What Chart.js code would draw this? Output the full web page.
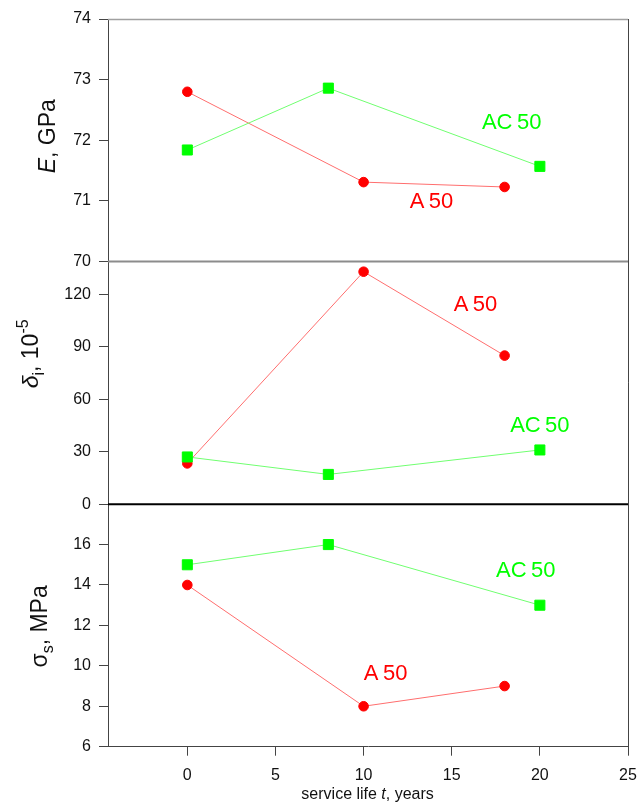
<!DOCTYPE html>
<html lang="en">
<head>
<meta charset="UTF-8">
<title>Service life</title>
<script src="https://cdn.jsdelivr.net/npm/chart.js"></script>
<style>
    html, body { margin: 0; padding: 0; background: #fff; }
    .chart-container { width: 638px; height: 805px; position: relative; }
</style>
</head>
<body>
<div class="chart-container">
    <canvas id="panels"></canvas>
</div>
<script>
    // service life, years
    const yearsA50 = [0, 10, 18];
    const yearsAC50 = [0, 8, 20];

    // elastic modulus E, GPa
    const modulusA50 = [72.8, 71.31, 71.23];
    const modulusAC50 = [71.84, 72.86, 71.57];

    // delta_i, 10^-5
    const deltaA50 = [23.3, 133, 85];
    const deltaAC50 = [27, 17, 31];

    // sigma_s, MPa
    const sigmaA50 = [14, 8, 9];
    const sigmaAC50 = [15, 16, 13];

    const xTicks = [0, 5, 10, 15, 20, 25];

    const RED = '#ff0000', RED_LINE = '#ff6e6e';
    const GREEN = '#00ff00', GREEN_LINE = '#70ff70';
    const FONT = '"Liberation Sans", Arial, sans-serif';

    function pts(xs, ys) {
        return xs.map((x, i) => ({x: x, y: ys[i]}));
    }

    function green(data, axis) {
        return {
            data: pts(yearsAC50, data), yAxisID: axis,
            borderColor: GREEN_LINE, borderWidth: 1,
            pointStyle: 'rect', pointRadius: 7.1, pointBorderWidth: 1,
            pointBackgroundColor: GREEN, pointBorderColor: GREEN
        };
    }
    function red(data, axis) {
        return {
            data: pts(yearsA50, data), yAxisID: axis,
            borderColor: RED_LINE, borderWidth: 1,
            pointStyle: 'circle', pointRadius: 4.8, pointBorderWidth: 1,
            pointBackgroundColor: RED, pointBorderColor: RED
        };
    }

    // series names placed next to the curves, in data units
    const seriesLabels = [
        {axis: 'yE', x: 18.4, y: 72.28, text: 'AC\u200950', color: GREEN},
        {axis: 'yE', x: 13.85, y: 70.99, text: 'A\u200950', color: RED},
        {axis: 'yD', x: 16.35, y: 113.9, text: 'A\u200950', color: RED},
        {axis: 'yD', x: 20.0, y: 44.8, text: 'AC\u200950', color: GREEN},
        {axis: 'yS', x: 19.2, y: 14.68, text: 'AC\u200950', color: GREEN},
        {axis: 'yS', x: 11.25, y: 9.6, text: 'A\u200950', color: RED}
    ];

    // rich axis titles: italic symbols, sub- and superscripts
    const axisTitles = [
        {axis: 'yE', x: 55, dy: -4, parts: [
            {t: 'E', italic: true}, {t: ', GPa'}]},
        {axis: 'yD', x: 38, dy: -29, parts: [
            {t: 'δ', italic: true}, {t: 'i', small: true, shift: 6}, {t: ', 10'},
            {t: '-5', small: true, shift: -10}]},
        {axis: 'yS', x: 47, dy: 1, parts: [
            {t: 'σ'}, {t: 's', small: true, shift: 6}, {t: ', MPa'}]}
    ];

    function partFont(p) {
        return (p.italic ? 'italic ' : '') + (p.small ? '16px ' : '23px ') + FONT;
    }

    const decorations = {
        id: 'decorations',
        afterDatasetsDraw(chart) {
            const ctx = chart.ctx;
            const a = chart.chartArea;
            const s = chart.scales;
            ctx.save();

            // frame: top, right and panel separators
            ctx.lineWidth = 1.5;
            ctx.strokeStyle = '#a0a0a0';
            ctx.beginPath();
            ctx.moveTo(a.left, s.yE.top + 0.5);
            ctx.lineTo(a.right, s.yE.top + 0.5);
            ctx.stroke();

            ctx.lineWidth = 2;
            ctx.strokeStyle = '#8c8c8c';
            ctx.beginPath();
            ctx.moveTo(a.left, s.yE.bottom);
            ctx.lineTo(a.right, s.yE.bottom);
            ctx.stroke();

            ctx.strokeStyle = '#000';
            ctx.beginPath();
            ctx.moveTo(a.left, s.yD.bottom);
            ctx.lineTo(a.right, s.yD.bottom);
            ctx.stroke();

            ctx.lineWidth = 1;
            ctx.strokeStyle = '#444';
            ctx.beginPath();
            ctx.moveTo(a.right + 0.5, a.top);
            ctx.lineTo(a.right + 0.5, a.bottom);
            ctx.stroke();

            // series names
            ctx.font = '22px ' + FONT;
            ctx.textAlign = 'center';
            ctx.textBaseline = 'middle';
            seriesLabels.forEach(l => {
                ctx.fillStyle = l.color;
                ctx.fillText(l.text, s.x.getPixelForValue(l.x), s[l.axis].getPixelForValue(l.y));
            });

            // y axis titles, rotated
            ctx.fillStyle = '#111';
            ctx.textAlign = 'left';
            ctx.textBaseline = 'alphabetic';
            axisTitles.forEach(t => {
                let total = 0;
                t.parts.forEach(p => { ctx.font = partFont(p); total += ctx.measureText(p.t).width; });
                const sc = s[t.axis];
                const cy = (sc.top + sc.bottom) / 2 + t.dy;
                ctx.save();
                ctx.translate(t.x, cy);
                ctx.rotate(-Math.PI / 2);
                let x = -total / 2;
                t.parts.forEach(p => {
                    ctx.font = partFont(p);
                    ctx.fillText(p.t, x, p.shift || 0);
                    x += ctx.measureText(p.t).width;
                });
                ctx.restore();
            });

            // x axis title
            const xt = [{t: 'service life '}, {t: 't', italic: true}, {t: ', years'}];
            const xf = p => (p.italic ? 'italic ' : '') + '16px ' + FONT;
            let w = 0;
            xt.forEach(p => { ctx.font = xf(p); w += ctx.measureText(p.t).width; });
            let x = s.x.getPixelForValue(10) + 4 - w / 2;
            xt.forEach(p => {
                ctx.font = xf(p);
                ctx.fillText(p.t, x, 799);
                x += ctx.measureText(p.t).width;
            });
            ctx.restore();
        }
    };

    function yAxis(min, max, step, weight, keep) {
        return {
            type: 'linear', position: 'left', stack: 'panels', stackWeight: 1, weight: weight,
            min: min, max: max,
            afterFit: sc => { sc.width = 108; },
            afterBuildTicks: sc => { sc.ticks = sc.ticks.filter(t => keep(t.value)); },
            border: {color: '#444', width: 1},
            grid: {drawOnChartArea: false, tickLength: 9, color: '#444'},
            ticks: {stepSize: step, padding: 8, color: '#111', font: {family: FONT, size: 16}}
        };
    }

    new Chart(document.getElementById('panels'), {
        type: 'line',
        data: {
            datasets: [
                green(modulusAC50, 'yE'), red(modulusA50, 'yE'),
                green(deltaAC50, 'yD'), red(deltaA50, 'yD'),
                green(sigmaAC50, 'yS'), red(sigmaA50, 'yS')
            ]
        },
        options: {
            responsive: true,
            maintainAspectRatio: false,
            animation: false,
            layout: {padding: {top: 19, right: 10, left: 0, bottom: 0}},
            plugins: {legend: {display: false}, tooltip: {enabled: false}},
            scales: {
                x: {
                    type: 'linear', min: -4.5, max: 25,
                    afterFit: sc => {
                        sc.height = 58.3;
                        sc.paddingRight = 10;
                        sc.paddingLeft = 0;
                    },
                    afterBuildTicks: sc => { sc.ticks = xTicks.map(v => ({value: v})); },
                    border: {color: '#444', width: 1},
                    grid: {drawOnChartArea: false, tickLength: 9, color: '#444'},
                    ticks: {padding: 10, color: '#111', font: {family: FONT, size: 16}, maxRotation: 0}
                },
                yE: yAxis(70, 74, 1, 3, v => true),
                yD: yAxis(0, 138.8, 30, 2, v => v <= 120),
                yS: yAxis(6, 18, 2, 1, v => v < 18)
            }
        },
        plugins: [decorations]
    });
</script>
</body>
</html>
